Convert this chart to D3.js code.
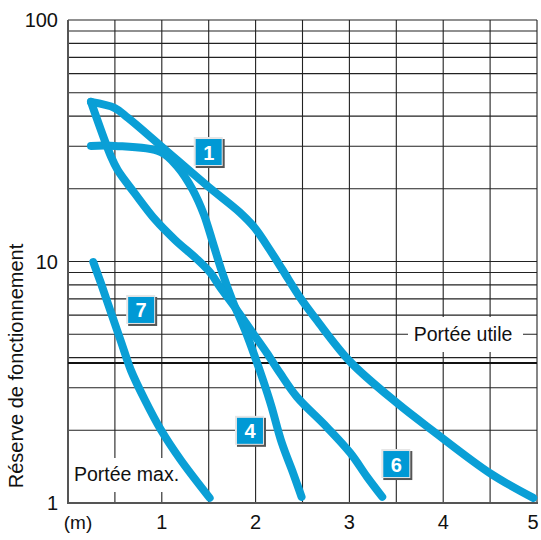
<!DOCTYPE html>
<html><head><meta charset="utf-8">
<script src="https://cdn.jsdelivr.net/npm/d3@7"></script>
<style>
html,body{margin:0;padding:0;background:#fff;}
svg{display:block;font-family:"Liberation Sans",Arial,sans-serif;}
</style></head>
<body>
<svg id="chart" width="541" height="540"></svg>
<script>
// ---- data ----
const xTickValues = [1, 2, 3, 4, 5];
const xTickLabels = ["1", "2", "3", "4", "5"];
const xUnitLabel = "(m)";
const yTickValues = [1, 10, 100];
const yTickLabels = ["1", "10", "100"];
const yTitle = "Réserve de fonctionnement";
const xGrid = [0.5, 1, 1.5, 2, 2.5, 3, 3.5, 4, 4.5, 5];
const yGrid = [2, 3, 4, 5, 6, 7, 8, 9, 10, 20, 30, 40, 50, 60, 70, 80, 90, 100];
const usefulRange = 3.8;
const usefulLabel = "Portée utile";
const maxLabel = "Portée max.";

const curve1 = [[0.245,45.8],[0.50,43.2],[0.64,39.3],[0.99,30.1],[1.49,20.5],[1.83,16.0],[1.99,13.8],[2.15,11.2],[2.29,9.2],[2.47,7.13],[2.65,5.73],[3.01,3.84],[3.51,2.59],[3.89,1.99],[4.51,1.32],[4.96,1.05]];
const curve4 = [[0.245,30.1],[0.50,30.1],[0.99,28.4],[1.17,24.6],[1.33,19.8],[1.45,15.6],[1.546,11.9],[1.642,9.05],[1.759,6.80],[1.887,5.20],[1.994,4.02],[2.079,3.23],[2.164,2.55],[2.28,1.77],[2.40,1.33],[2.49,1.06]];
const curve6 = [[0.245,45.8],[0.46,27.1],[0.53,23.9],[0.71,19.2],[0.93,14.9],[1.14,12.3],[1.39,10.1],[1.52,8.96],[1.62,7.84],[1.80,6.30],[1.97,5.06],[2.12,4.18],[2.26,3.45],[2.44,2.75],[2.76,2.06],[3.01,1.61],[3.19,1.28],[3.35,1.06]];
const curve7 = [[0.27,9.95],[0.35,8.15],[0.46,6.12],[0.57,4.60],[0.67,3.55],[0.82,2.67],[0.99,2.01],[1.20,1.51],[1.51,1.05]];
const curveNames = ["1", "4", "6", "7"];
const labelX = [1.50, 1.94, 3.50, 0.78];
const labelY = [28.4, 1.99, 1.45, 6.30];

// ---- drawing ----
const svg = d3.select("#chart");
const x = d3.scaleLinear().domain([0, 5]).range([68, 537]);
const y = d3.scaleLog().domain([1, 100]).range([503, 20]);
const blue = "#0a9fd6";

const grid = svg.append("g");
grid.selectAll("line.h").data(yGrid).join("line")
  .attr("x1", x(0)).attr("x2", x(5))
  .attr("y1", d => y(d)).attr("y2", d => y(d))
  .attr("stroke", "#222").attr("stroke-width", 1.1);
grid.selectAll("line.v").data(xGrid).join("line")
  .attr("x1", d => x(d)).attr("x2", d => x(d))
  .attr("y1", y(1)).attr("y2", y(100))
  .attr("stroke", "#222").attr("stroke-width", 1.1);
// frame
grid.append("line").attr("x1", x(0)).attr("x2", x(0)).attr("y1", y(1)+1).attr("y2", y(100))
  .attr("stroke", "#555").attr("stroke-width", 2);
grid.append("line").attr("x1", x(0)).attr("x2", x(5)+1).attr("y1", y(1)).attr("y2", y(1))
  .attr("stroke", "#555").attr("stroke-width", 2);
// useful range line
grid.append("line").attr("x1", x(0)).attr("x2", x(5))
  .attr("y1", y(usefulRange)).attr("y2", y(usefulRange))
  .attr("stroke", "#111").attr("stroke-width", 2);

// text labels with white background
const ut = svg.append("g");
ut.append("rect").attr("x", 408).attr("y", 317).attr("width", 115).attr("height", 35).attr("fill", "#fff");
ut.append("text").attr("x", 463).attr("y", y(5) + 7).attr("text-anchor", "middle")
  .attr("font-size", 19.5).attr("fill", "#111").text(usefulLabel);
const mt = svg.append("g");
mt.append("rect").attr("x", 72).attr("y", 458).attr("width", 112).attr("height", 34).attr("fill", "#fff");
mt.append("text").attr("x", 74).attr("y", 481).attr("font-size", 19.5).attr("fill", "#111").text(maxLabel);

// curves
const line = d3.line().x(d => x(d[0])).y(d => y(d[1])).curve(d3.curveCatmullRom.alpha(0.5));
[curve1, curve4, curve6, curve7].forEach(c => {
  svg.append("path").attr("d", line(c)).attr("fill", "none")
    .attr("stroke", blue).attr("stroke-width", 8)
    .attr("stroke-linecap", "round").attr("stroke-linejoin", "round");
});

// curve number boxes
curveNames.forEach((n, i) => {
  const cx = x(labelX[i]), cy = y(labelY[i]);
  const g = svg.append("g").attr("transform", `translate(${cx},${cy})`);
  g.append("rect").attr("x", -13).attr("y", -13).attr("width", 29).attr("height", 29).attr("fill", "#555");
  g.append("rect").attr("x", -15).attr("y", -15).attr("width", 29).attr("height", 29).attr("fill", "#e6e6e6");
  g.append("rect").attr("x", -13).attr("y", -13).attr("width", 26).attr("height", 26).attr("fill", "#0099d5");
  g.append("text").attr("x", 0).attr("y", 7.5).attr("text-anchor", "middle")
    .attr("font-size", 20).attr("font-weight", "bold").attr("fill", "#fff").text(n);
});

// axis labels
svg.selectAll("text.xt").data(xTickValues).join("text")
  .attr("x", d => Math.min(x(d), 533)).attr("y", 529).attr("text-anchor", "middle")
  .attr("font-size", 20).attr("fill", "#111").text((d, i) => xTickLabels[i]);
svg.append("text").attr("x", 78).attr("y", 529).attr("text-anchor", "middle")
  .attr("font-size", 19).attr("fill", "#111").text(xUnitLabel);
svg.selectAll("text.yt").data(yTickValues).join("text")
  .attr("x", 58).attr("y", d => y(d) + 7).attr("text-anchor", "end")
  .attr("font-size", 20).attr("fill", "#111").text((d, i) => yTickLabels[i]);
svg.append("text").attr("transform", "translate(23,366) rotate(-90)")
  .attr("text-anchor", "middle").attr("font-size", 20).attr("fill", "#111").text(yTitle);
</script>
</body></html>
